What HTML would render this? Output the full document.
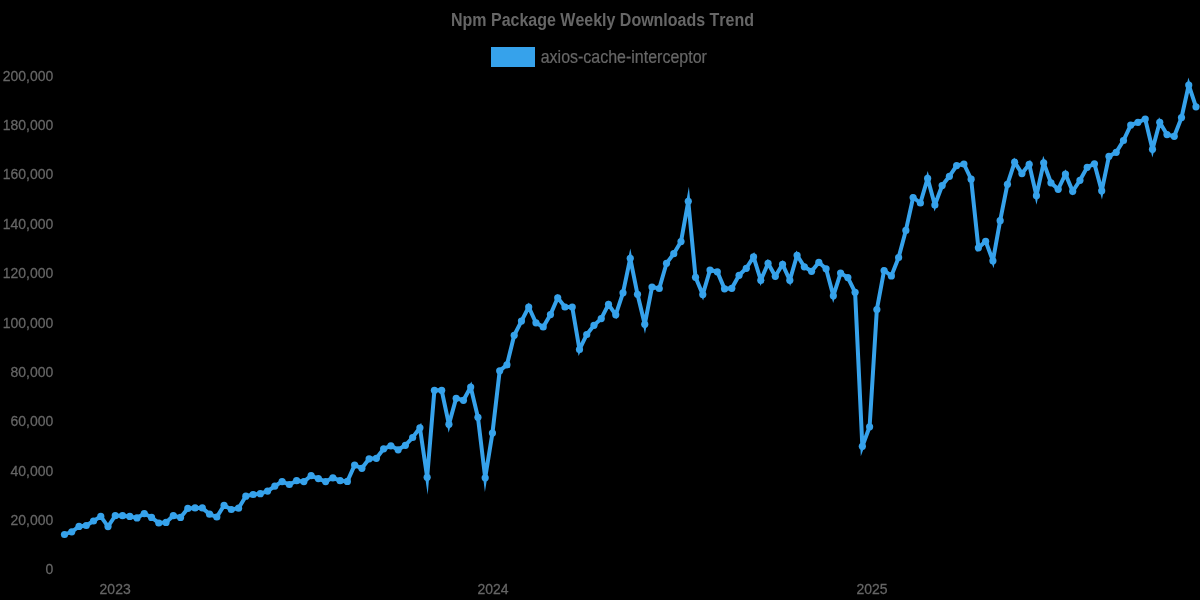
<!DOCTYPE html>
<html><head><meta charset="utf-8"><style>
html,body{margin:0;padding:0;background:#000;}
svg{display:block;will-change:transform;}
text{font-family:"Liberation Sans",sans-serif;font-kerning:none;}
</style></head><body>
<svg width="1200" height="600" viewBox="0 0 1200 600">
<rect width="1200" height="600" fill="#000"/>
<text x="602.5" y="0" transform="translate(0,25.6) scale(1,1.16)" text-anchor="middle" font-size="16" font-weight="bold" fill="#666">Npm Package Weekly Downloads Trend</text>
<rect x="493" y="49" width="40" height="16" fill="rgb(54,162,235)" stroke="rgb(54,162,235)" stroke-width="4"/>
<text x="540.7" y="0" transform="translate(0,62.7) scale(1,1.16)" font-size="16" fill="#666" stroke="#666" stroke-width="0.2">axios-cache-interceptor</text>
<g font-size="14" fill="#666" stroke="#666" stroke-width="0.25"><text x="53.3" y="0" transform="translate(0,574.40) scale(1,1.05)" text-anchor="end">0</text><text x="53.3" y="0" transform="translate(0,525.02) scale(1,1.05)" text-anchor="end">20,000</text><text x="53.3" y="0" transform="translate(0,475.64) scale(1,1.05)" text-anchor="end">40,000</text><text x="53.3" y="0" transform="translate(0,426.26) scale(1,1.05)" text-anchor="end">60,000</text><text x="53.3" y="0" transform="translate(0,376.88) scale(1,1.05)" text-anchor="end">80,000</text><text x="53.3" y="0" transform="translate(0,327.50) scale(1,1.05)" text-anchor="end">100,000</text><text x="53.3" y="0" transform="translate(0,278.12) scale(1,1.05)" text-anchor="end">120,000</text><text x="53.3" y="0" transform="translate(0,228.74) scale(1,1.05)" text-anchor="end">140,000</text><text x="53.3" y="0" transform="translate(0,179.36) scale(1,1.05)" text-anchor="end">160,000</text><text x="53.3" y="0" transform="translate(0,129.98) scale(1,1.05)" text-anchor="end">180,000</text><text x="53.3" y="0" transform="translate(0,80.60) scale(1,1.05)" text-anchor="end">200,000</text><text x="115.15" y="0" transform="translate(0,593.7) scale(1,1.05)" text-anchor="middle">2023</text><text x="493.1" y="0" transform="translate(0,593.7) scale(1,1.05)" text-anchor="middle">2024</text><text x="872.1" y="0" transform="translate(0,593.7) scale(1,1.05)" text-anchor="middle">2025</text></g>
<path d="M64.50,534.50 L71.75,531.80 L79.01,526.40 L86.26,525.50 L93.51,521.00 L100.77,516.40 L108.02,526.55 L115.27,515.70 L122.53,515.70 L129.78,516.40 L137.03,517.90 L144.29,513.60 L151.54,517.40 L158.79,523.00 L166.04,522.40 L173.30,515.70 L180.55,517.40 L187.80,508.45 L195.06,507.90 L202.31,507.90 L209.56,514.20 L216.82,517.00 L224.07,505.40 L231.32,509.50 L238.58,508.20 L245.83,496.15 L253.08,494.50 L260.34,493.65 L267.59,491.10 L274.84,486.10 L282.10,481.55 L289.35,484.50 L296.60,480.70 L303.86,481.55 L311.11,475.70 L318.36,478.60 L325.62,481.55 L332.87,477.80 L340.12,480.70 L347.37,481.40 L354.63,465.10 L361.88,468.30 L369.13,458.80 L376.39,458.30 L383.64,448.80 L390.89,445.80 L398.15,449.80 L405.40,445.30 L412.65,437.50 L419.91,427.80 L427.16,477.30 L434.41,390.30 L441.67,390.30 L448.92,424.30 L456.17,398.30 L463.43,400.30 L470.68,387.00 L477.93,417.30 L485.19,477.80 L492.44,433.10 L499.69,370.80 L506.95,364.80 L514.20,335.30 L521.45,321.10 L528.70,307.00 L535.96,322.80 L543.21,327.00 L550.46,314.60 L557.72,297.80 L564.97,307.00 L572.22,307.00 L579.48,349.50 L586.73,334.50 L593.98,325.30 L601.24,318.60 L608.49,304.30 L615.74,314.80 L623.00,292.80 L630.25,258.30 L637.50,294.30 L644.76,324.30 L652.01,287.00 L659.26,288.50 L666.52,263.30 L673.77,253.70 L681.02,241.60 L688.28,201.30 L695.53,277.30 L702.78,294.60 L710.03,270.00 L717.29,271.80 L724.54,288.80 L731.79,288.30 L739.05,275.30 L746.30,268.30 L753.55,256.80 L760.81,280.30 L768.06,263.30 L775.31,276.30 L782.57,264.30 L789.82,280.30 L797.07,255.30 L804.33,266.80 L811.58,271.30 L818.83,262.30 L826.09,268.80 L833.34,295.80 L840.59,273.10 L847.85,277.60 L855.10,292.30 L862.35,446.30 L869.61,426.80 L876.86,309.50 L884.11,270.50 L891.36,275.90 L898.62,257.50 L905.87,230.40 L913.12,197.50 L920.38,203.00 L927.63,178.40 L934.88,205.00 L942.14,185.60 L949.39,176.30 L956.64,165.60 L963.90,164.00 L971.15,179.20 L978.40,247.80 L985.66,241.30 L992.91,260.80 L1000.16,220.70 L1007.42,184.30 L1014.67,162.20 L1021.92,173.60 L1029.18,164.30 L1036.43,195.70 L1043.68,162.80 L1050.94,182.80 L1058.19,189.30 L1065.44,174.10 L1072.69,191.30 L1079.95,180.30 L1087.20,167.30 L1094.45,163.80 L1101.71,190.80 L1108.96,156.30 L1116.21,152.30 L1123.47,140.50 L1130.72,125.10 L1137.97,122.30 L1145.23,119.00 L1152.48,149.30 L1159.73,122.30 L1166.99,134.60 L1174.24,136.30 L1181.49,117.60 L1188.75,85.00 L1196.00,106.80" fill="none" stroke="rgb(54,162,235)" stroke-width="4.0" stroke-linejoin="miter" stroke-miterlimit="10"/>
<g fill="rgb(54,162,235)"><circle cx="64.50" cy="534.50" r="3.6"/><circle cx="71.75" cy="531.80" r="3.6"/><circle cx="79.01" cy="526.40" r="3.6"/><circle cx="86.26" cy="525.50" r="3.6"/><circle cx="93.51" cy="521.00" r="3.6"/><circle cx="100.77" cy="516.40" r="3.6"/><circle cx="108.02" cy="526.55" r="3.6"/><circle cx="115.27" cy="515.70" r="3.6"/><circle cx="122.53" cy="515.70" r="3.6"/><circle cx="129.78" cy="516.40" r="3.6"/><circle cx="137.03" cy="517.90" r="3.6"/><circle cx="144.29" cy="513.60" r="3.6"/><circle cx="151.54" cy="517.40" r="3.6"/><circle cx="158.79" cy="523.00" r="3.6"/><circle cx="166.04" cy="522.40" r="3.6"/><circle cx="173.30" cy="515.70" r="3.6"/><circle cx="180.55" cy="517.40" r="3.6"/><circle cx="187.80" cy="508.45" r="3.6"/><circle cx="195.06" cy="507.90" r="3.6"/><circle cx="202.31" cy="507.90" r="3.6"/><circle cx="209.56" cy="514.20" r="3.6"/><circle cx="216.82" cy="517.00" r="3.6"/><circle cx="224.07" cy="505.40" r="3.6"/><circle cx="231.32" cy="509.50" r="3.6"/><circle cx="238.58" cy="508.20" r="3.6"/><circle cx="245.83" cy="496.15" r="3.6"/><circle cx="253.08" cy="494.50" r="3.6"/><circle cx="260.34" cy="493.65" r="3.6"/><circle cx="267.59" cy="491.10" r="3.6"/><circle cx="274.84" cy="486.10" r="3.6"/><circle cx="282.10" cy="481.55" r="3.6"/><circle cx="289.35" cy="484.50" r="3.6"/><circle cx="296.60" cy="480.70" r="3.6"/><circle cx="303.86" cy="481.55" r="3.6"/><circle cx="311.11" cy="475.70" r="3.6"/><circle cx="318.36" cy="478.60" r="3.6"/><circle cx="325.62" cy="481.55" r="3.6"/><circle cx="332.87" cy="477.80" r="3.6"/><circle cx="340.12" cy="480.70" r="3.6"/><circle cx="347.37" cy="481.40" r="3.6"/><circle cx="354.63" cy="465.10" r="3.6"/><circle cx="361.88" cy="468.30" r="3.6"/><circle cx="369.13" cy="458.80" r="3.6"/><circle cx="376.39" cy="458.30" r="3.6"/><circle cx="383.64" cy="448.80" r="3.6"/><circle cx="390.89" cy="445.80" r="3.6"/><circle cx="398.15" cy="449.80" r="3.6"/><circle cx="405.40" cy="445.30" r="3.6"/><circle cx="412.65" cy="437.50" r="3.6"/><circle cx="419.91" cy="427.80" r="3.6"/><circle cx="427.16" cy="477.30" r="3.6"/><circle cx="434.41" cy="390.30" r="3.6"/><circle cx="441.67" cy="390.30" r="3.6"/><circle cx="448.92" cy="424.30" r="3.6"/><circle cx="456.17" cy="398.30" r="3.6"/><circle cx="463.43" cy="400.30" r="3.6"/><circle cx="470.68" cy="387.00" r="3.6"/><circle cx="477.93" cy="417.30" r="3.6"/><circle cx="485.19" cy="477.80" r="3.6"/><circle cx="492.44" cy="433.10" r="3.6"/><circle cx="499.69" cy="370.80" r="3.6"/><circle cx="506.95" cy="364.80" r="3.6"/><circle cx="514.20" cy="335.30" r="3.6"/><circle cx="521.45" cy="321.10" r="3.6"/><circle cx="528.70" cy="307.00" r="3.6"/><circle cx="535.96" cy="322.80" r="3.6"/><circle cx="543.21" cy="327.00" r="3.6"/><circle cx="550.46" cy="314.60" r="3.6"/><circle cx="557.72" cy="297.80" r="3.6"/><circle cx="564.97" cy="307.00" r="3.6"/><circle cx="572.22" cy="307.00" r="3.6"/><circle cx="579.48" cy="349.50" r="3.6"/><circle cx="586.73" cy="334.50" r="3.6"/><circle cx="593.98" cy="325.30" r="3.6"/><circle cx="601.24" cy="318.60" r="3.6"/><circle cx="608.49" cy="304.30" r="3.6"/><circle cx="615.74" cy="314.80" r="3.6"/><circle cx="623.00" cy="292.80" r="3.6"/><circle cx="630.25" cy="258.30" r="3.6"/><circle cx="637.50" cy="294.30" r="3.6"/><circle cx="644.76" cy="324.30" r="3.6"/><circle cx="652.01" cy="287.00" r="3.6"/><circle cx="659.26" cy="288.50" r="3.6"/><circle cx="666.52" cy="263.30" r="3.6"/><circle cx="673.77" cy="253.70" r="3.6"/><circle cx="681.02" cy="241.60" r="3.6"/><circle cx="688.28" cy="201.30" r="3.6"/><circle cx="695.53" cy="277.30" r="3.6"/><circle cx="702.78" cy="294.60" r="3.6"/><circle cx="710.03" cy="270.00" r="3.6"/><circle cx="717.29" cy="271.80" r="3.6"/><circle cx="724.54" cy="288.80" r="3.6"/><circle cx="731.79" cy="288.30" r="3.6"/><circle cx="739.05" cy="275.30" r="3.6"/><circle cx="746.30" cy="268.30" r="3.6"/><circle cx="753.55" cy="256.80" r="3.6"/><circle cx="760.81" cy="280.30" r="3.6"/><circle cx="768.06" cy="263.30" r="3.6"/><circle cx="775.31" cy="276.30" r="3.6"/><circle cx="782.57" cy="264.30" r="3.6"/><circle cx="789.82" cy="280.30" r="3.6"/><circle cx="797.07" cy="255.30" r="3.6"/><circle cx="804.33" cy="266.80" r="3.6"/><circle cx="811.58" cy="271.30" r="3.6"/><circle cx="818.83" cy="262.30" r="3.6"/><circle cx="826.09" cy="268.80" r="3.6"/><circle cx="833.34" cy="295.80" r="3.6"/><circle cx="840.59" cy="273.10" r="3.6"/><circle cx="847.85" cy="277.60" r="3.6"/><circle cx="855.10" cy="292.30" r="3.6"/><circle cx="862.35" cy="446.30" r="3.6"/><circle cx="869.61" cy="426.80" r="3.6"/><circle cx="876.86" cy="309.50" r="3.6"/><circle cx="884.11" cy="270.50" r="3.6"/><circle cx="891.36" cy="275.90" r="3.6"/><circle cx="898.62" cy="257.50" r="3.6"/><circle cx="905.87" cy="230.40" r="3.6"/><circle cx="913.12" cy="197.50" r="3.6"/><circle cx="920.38" cy="203.00" r="3.6"/><circle cx="927.63" cy="178.40" r="3.6"/><circle cx="934.88" cy="205.00" r="3.6"/><circle cx="942.14" cy="185.60" r="3.6"/><circle cx="949.39" cy="176.30" r="3.6"/><circle cx="956.64" cy="165.60" r="3.6"/><circle cx="963.90" cy="164.00" r="3.6"/><circle cx="971.15" cy="179.20" r="3.6"/><circle cx="978.40" cy="247.80" r="3.6"/><circle cx="985.66" cy="241.30" r="3.6"/><circle cx="992.91" cy="260.80" r="3.6"/><circle cx="1000.16" cy="220.70" r="3.6"/><circle cx="1007.42" cy="184.30" r="3.6"/><circle cx="1014.67" cy="162.20" r="3.6"/><circle cx="1021.92" cy="173.60" r="3.6"/><circle cx="1029.18" cy="164.30" r="3.6"/><circle cx="1036.43" cy="195.70" r="3.6"/><circle cx="1043.68" cy="162.80" r="3.6"/><circle cx="1050.94" cy="182.80" r="3.6"/><circle cx="1058.19" cy="189.30" r="3.6"/><circle cx="1065.44" cy="174.10" r="3.6"/><circle cx="1072.69" cy="191.30" r="3.6"/><circle cx="1079.95" cy="180.30" r="3.6"/><circle cx="1087.20" cy="167.30" r="3.6"/><circle cx="1094.45" cy="163.80" r="3.6"/><circle cx="1101.71" cy="190.80" r="3.6"/><circle cx="1108.96" cy="156.30" r="3.6"/><circle cx="1116.21" cy="152.30" r="3.6"/><circle cx="1123.47" cy="140.50" r="3.6"/><circle cx="1130.72" cy="125.10" r="3.6"/><circle cx="1137.97" cy="122.30" r="3.6"/><circle cx="1145.23" cy="119.00" r="3.6"/><circle cx="1152.48" cy="149.30" r="3.6"/><circle cx="1159.73" cy="122.30" r="3.6"/><circle cx="1166.99" cy="134.60" r="3.6"/><circle cx="1174.24" cy="136.30" r="3.6"/><circle cx="1181.49" cy="117.60" r="3.6"/><circle cx="1188.75" cy="85.00" r="3.6"/><circle cx="1196.00" cy="106.80" r="3.6"/></g>
</svg>
</body></html>
